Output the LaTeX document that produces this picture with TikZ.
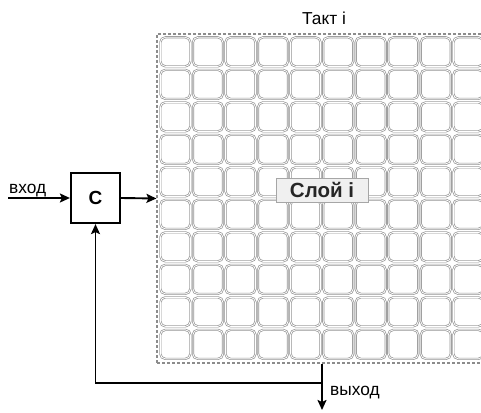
\documentclass[tikz,border=0pt]{standalone}
\usepackage{fontspec}
\setmainfont{Liberation Sans}
\usetikzlibrary{arrows.meta}
\tikzset{
  cellbox/.style={draw=gray!85, double=white, double distance=0.8pt, line width=0.7pt,
    rounded corners=5pt, minimum width=30pt, minimum height=29pt, inner sep=0pt, anchor=north west},
  layerbox/.style={draw=gray!90, dash pattern=on 3pt off 2pt, line width=1.1pt,
    minimum width=330pt, minimum height=329pt, inner sep=0pt},
  cbox/.style={draw=black, line width=2.2pt, minimum width=49pt, minimum height=50pt, inner sep=0pt,
    font=\fontsize{19}{21}\selectfont\bfseries},
  labelbox/.style={draw=gray!70, fill=gray!12, line width=0.8pt, minimum width=92pt, minimum height=24pt,
    inner sep=0pt, font=\fontsize{20.5}{22}\selectfont\bfseries, text=black!85},
  wire/.style={line width=1.9pt, draw=black},
  arr/.style={wire, -{Stealth[length=10pt,width=9pt,inset=2pt]}},
  txt/.style={font=\fontsize{17.3}{19}\selectfont, inner sep=0pt}
}
\begin{document}
\begin{tikzpicture}[x=1pt,y=-1pt]
\useasboundingbox (0,0) rectangle (481,412);
\fill[white] (0,0) rectangle (481,412);
% cells
\foreach \r in {0,...,9}{
  \foreach \c in {0,...,9}{
    \node[cellbox] (cell-\r-\c) at ({160+32.56*\c},{37+32.5*\r}) {};
  }
}
\node[layerbox] (layer) at (322,198.5) {};
\node[labelbox] (slabel) at (322,190) {Слой i};
\node[txt, anchor=base] (takt) at (324,25) {Такт i};
\node[cbox] (C) at (95.5,198) {C};
\coordinate (in) at (8,198);
\node[txt, anchor=base west] (inlabel) at (9,193) {вход};
\coordinate (junc) at (322,383);
\coordinate (out) at (322,410);
\node[txt, anchor=base west] (outlabel) at (330,395) {выход};
\draw[arr] (in) -- (C.west);
\draw[arr] (C.east) -- (layer.west);
\draw[arr] (layer.south) -- (out);
\draw[arr] (junc) -| (C.south);
\end{tikzpicture}
\end{document}
